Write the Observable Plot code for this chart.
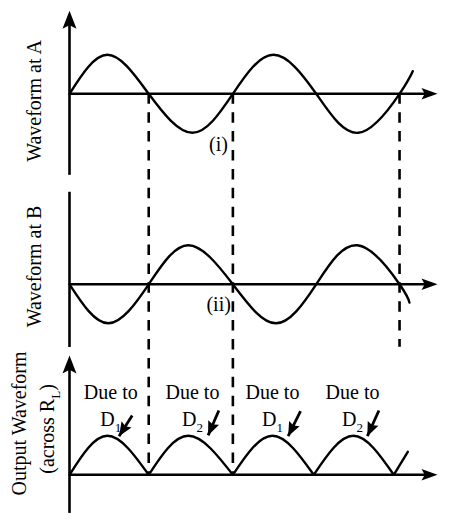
<!DOCTYPE html>
<html>
<head>
<meta charset="utf-8">
<script src="https://cdn.jsdelivr.net/npm/d3@7"></script>
<script src="https://cdn.jsdelivr.net/npm/@observablehq/plot@0.6"></script>
<style>
  html, body { margin: 0; padding: 0; background: #fff; }
  #chart svg { display: block; overflow: visible; }
</style>
</head>
<body>
<div id="chart"></div>
<script>
// Full-wave rectifier: supply at A, inverted supply at B, rectified output across R_L.
// Time is measured in half-cycles of the supply; voltage in units of the peak value.

// Waveform at A
const waveAT = [0, 0.46, 0.96, 1.49, 1.98, 2.47, 2.99, 3.50, 4.0, 4.16];
const waveAV = [0, 1, 0, -1, 0, 1, 0, -1, 0, 0.58];

// Waveform at B (opposite phase)
const waveBT = [0, 0.47, 0.96, 1.44, 1.98, 2.50, 2.99, 3.49, 4.0, 4.12];
const waveBV = [0, -1, 0, 1, 0, -1, 0, 1, 0, -0.47];

// Output humps across R_L
const humpStart = [0, 0.96, 1.98, 2.96];
const humpPeak = [0.46, 1.44, 2.46, 3.44];
const humpEnd = [0.96, 1.98, 2.96, 3.93];
const tailT = [3.93, 4.10];
const tailV = [0, 0.59];

// Zero crossings marked by dashed guides, and how far down each guide runs
const guideT = [0.96, 1.98, 4.0];
const guideReach = ["C", "C", "B"];

// Diode labels above each output hump
const diodeT = [0.50, 1.49, 2.46, 3.43];
const diodeName = ["D_1", "D_2", "D_1", "D_2"];
const pointerFromT = [0.76, 1.81, 2.80, 3.75];
const pointerFromV = [1.52, 1.65, 1.63, 1.65];
const pointerToT = [0.60, 1.68, 2.65, 3.61];
const pointerToV = [0.99, 1.01, 0.99, 0.99];

// Panel titles
const panels = ["A", "B", "C"];
const titleA = "Waveform at A";
const titleB = "Waveform at B";
const titleC1 = "Output Waveform";
const titleC2 = "(across R_L)";
const markI = "(i)";
const markII = "(ii)";

// ---- layout ----
const W = 469, H = 526;
const originX = 69, arrowTipX = 437;
const tMax = 4.46;                 // time at the tip of the t-axis arrow
const pxPerV = 39;                 // pixels per unit voltage
const step = 190.5, band = 140;    // facet spacing and facet height
const baseOff = 93.3;              // baseline offset inside each facet
const yDomain = [-(band - baseOff) / pxPerV, baseOff / pxPerV];
const stepV = step / pxPerV;       // one facet step in voltage units
const pxPerT = (arrowTipX - originX) / tMax;

const font = "'Liberation Serif', 'Times New Roman', Times, serif";

// filled arrowhead with a notched back; tip at the origin, pointing up
const arrowHead = (halfWidth, notch) => ({
  draw(ctx, size) {
    const L = Math.sqrt(size / Math.PI);
    ctx.moveTo(0, 0);
    ctx.lineTo(halfWidth * L, L);
    ctx.lineTo(0, L - notch * L);
    ctx.lineTo(-halfWidth * L, L);
    ctx.closePath();
  }
});

const series = (ts, vs, panel, z = panel) => ts.map((t, i) => ({t, v: vs[i], panel, z}));
const waveA = series(waveAT, waveAV, "A");
const waveB = series(waveBT, waveBV, "B");
const output = humpStart.flatMap((s, i) => [
  {t: s, v: 0, panel: "C", z: i},
  {t: humpPeak[i], v: 1, panel: "C", z: i},
  {t: humpEnd[i], v: 0, panel: "C", z: i}
]).concat(series(tailT, tailV, "C", "tail"));

const guides = guideT.map((t, i) => ({
  t, panel: "A",
  end: guideReach[i] === "C" ? -2 * stepV : -(stepV + 63 / pxPerV)
}));

// vertical axes of each panel
const vAxes = [
  {panel: "A", lo: -2.09, hi: 1.95, head: 2.13},
  {panel: "B", lo: -1.62, hi: 2.36, head: null},
  {panel: "C", lo: -0.99, hi: 2.9, head: 3.06}
];

const diodes = diodeT.map((t, i) => ({t, panel: "C", name: diodeName[i]}));
const pointers = pointerFromT.map((t, i) => {
  const dx = (pointerToT[i] - t) * pxPerT;
  const dy = -(pointerToV[i] - pointerFromV[i]) * pxPerV;
  return {
    panel: "C",
    t1: t, v1: pointerFromV[i], t2: pointerToT[i], v2: pointerToV[i],
    angle: Math.atan2(dx, -dy) * 180 / Math.PI
  };
});

const textOpts = {fontFamily: font, fontSize: 20, fill: "black"};
const titleOpts = {frameAnchor: "left", textAnchor: "middle", lineAnchor: "middle", y: "v", fy: "panel", text: "s", rotate: -90, ...textOpts};

const chart = Plot.plot({
  width: W,
  height: H,
  marginLeft: originX,
  marginRight: W - arrowTipX,
  marginTop: 0,
  marginBottom: H - (2 * step + band),
  x: {domain: [0, tMax], axis: null},
  y: {domain: yDomain, axis: null},
  fy: {domain: panels, axis: null, paddingInner: 1 - band / step, paddingOuter: 0, round: false},
  style: {background: "white", color: "black", fontFamily: font, fontSize: "20px", overflow: "visible"},
  marks: [
    // dashed guides at the zero crossings, running down through the panels
    Plot.ruleX(guides, {x: "t", y1: 0, y2: "end", fy: "panel", stroke: "black", strokeWidth: 2.6, strokeDasharray: "10.5,8.4"}),

    // time axis in every panel
    Plot.ruleY([0], {x1: 0, x2: tMax - 0.12, stroke: "black", strokeWidth: 2.6}),
    Plot.dot([tMax], {x: d => d, y: 0, r: 16, rotate: 90, symbol: arrowHead(0.36, 0.2), fill: "black", stroke: null}),
    Plot.text(["t"], {x: d => d, y: 0, text: d => d, ...textOpts, fontStyle: "italic", textAnchor: "start", dx: 2, dy: -1}),

    // vertical axes
    Plot.ruleX(vAxes, {x: 0, y1: "lo", y2: "hi", fy: "panel", stroke: "black", strokeWidth: 2.6}),
    Plot.dot(vAxes.filter(d => d.head != null), {x: 0, y: "head", fy: "panel", r: 18, symbol: arrowHead(0.39, 0.2), fill: "black", stroke: null}),

    // waveforms
    Plot.line(waveA, {x: "t", y: "v", fy: "panel", z: "z", curve: "natural", stroke: "black", strokeWidth: 2.4}),
    Plot.line(waveB, {x: "t", y: "v", fy: "panel", z: "z", curve: "natural", stroke: "black", strokeWidth: 2.4}),
    Plot.line(output, {x: "t", y: "v", fy: "panel", z: "z", curve: "natural", stroke: "black", strokeWidth: 2.4}),

    // crossing marks
    Plot.text([{panel: "A", t: 1.98, v: -1.31, s: markI}], {x: "t", y: "v", fy: "panel", text: "s", ...textOpts, textAnchor: "end", dx: -5}),
    Plot.text([{panel: "B", t: 1.98, v: -0.51, s: markII}], {x: "t", y: "v", fy: "panel", text: "s", ...textOpts, textAnchor: "end", dx: -2}),

    // diode labels and pointers
    Plot.text(diodes, {x: "t", y: 2.12, fy: "panel", text: () => "Due to", ...textOpts}),
    Plot.text(diodes, {x: "t", y: 1.42, fy: "panel", text: "name", ...textOpts}),
    Plot.link(pointers, {x1: "t1", y1: "v1", x2: "t2", y2: "v2", fy: "panel", stroke: "black", strokeWidth: 2.8}),
    Plot.dot(pointers, {x: "t2", y: "v2", fy: "panel", rotate: "angle", r: 14, symbol: arrowHead(0.42, 0.15), fill: "black", stroke: null}),

    // panel titles
    Plot.text([{panel: "A", v: -0.185, s: titleA}, {panel: "B", v: 0.456, s: titleB}], {...titleOpts, dx: -35.4}),
    Plot.text([{panel: "C", v: 1.315, s: titleC1}], {...titleOpts, dx: -50.4}),
    Plot.text([{panel: "C", v: 1.175, s: titleC2}], {...titleOpts, dx: -21.6})
  ]
});

// turn "X_n" labels into X with a subscript n
d3.select(chart).selectAll("text").each(function () {
  const el = d3.select(this);
  const m = el.text().match(/^(.*)_(.)(.*)$/);
  if (!m) return;
  el.text(null);
  el.append("tspan").text(m[1]);
  el.append("tspan").attr("dy", 6).attr("font-size", 13).text(m[2]);
  if (m[3]) el.append("tspan").attr("dy", -6).text(m[3]);
});

document.getElementById("chart").appendChild(chart);
</script>
</body>
</html>
